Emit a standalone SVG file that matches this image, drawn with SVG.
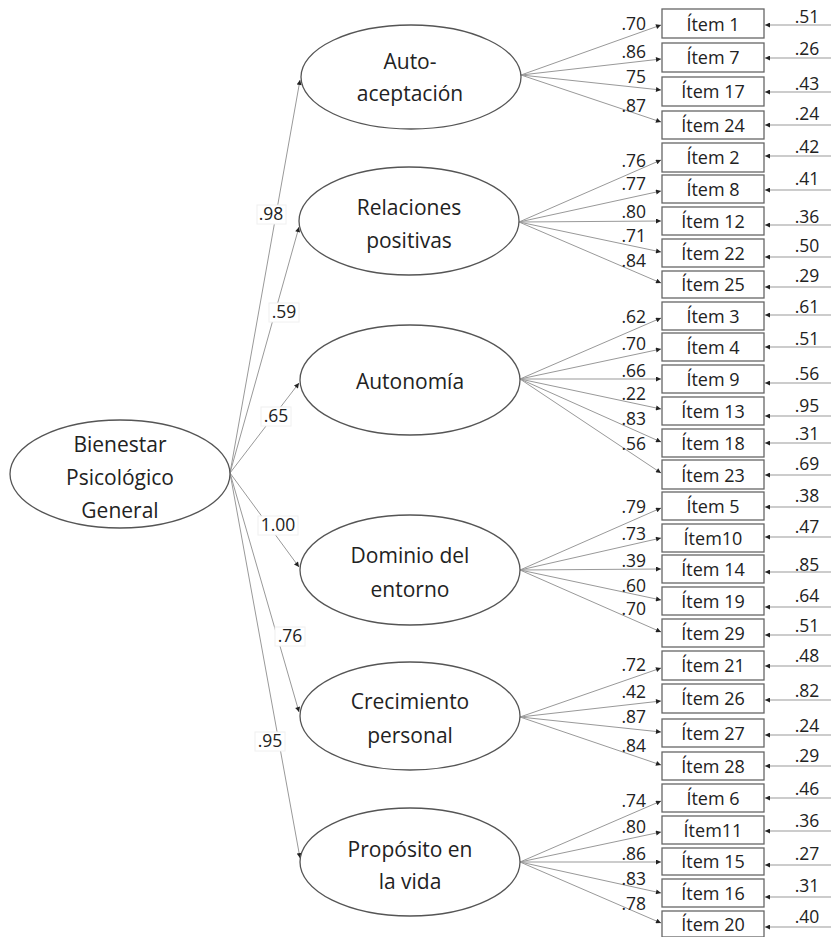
<svg xmlns="http://www.w3.org/2000/svg" width="831" height="937" viewBox="0 0 831 937">
<style>
.lat{fill:#fff;stroke:#555;stroke-width:1.3}
.box{fill:#fff;stroke:#666;stroke-width:1.3}
.lt{font-family:"Open Sans","Noto Sans",sans-serif;font-size:21px;fill:#222;text-anchor:middle}
.it{font-family:"Open Sans","Noto Sans",sans-serif;font-size:18px;fill:#222;text-anchor:middle}
.num{font-family:"Open Sans","Noto Sans",sans-serif;font-size:17.5px;fill:#222}
.ld{text-anchor:end}
.er{text-anchor:middle}
.sp{text-anchor:middle}
.c{fill:none;stroke:#999;stroke-width:1;marker-end:url(#ah)}
.bg{fill:#fff;stroke:#f0f0f0;stroke-width:1}
</style>
<defs>
<marker id="ah" viewBox="0 0 10 10" refX="10" refY="5" markerWidth="6" markerHeight="5" markerUnits="userSpaceOnUse" orient="auto"><path d="M0,0 L10,5 L0,10 z" fill="#222"/></marker>
</defs>
<rect width="831" height="937" fill="#fff"/>
<g id="connectors">
<path class="c" d="M230,473 L300,80"/>
<path class="c" d="M230,473 L299,227"/>
<path class="c" d="M230,473 L299,383"/>
<path class="c" d="M230,473 L299,567"/>
<path class="c" d="M230,473 L299,712"/>
<path class="c" d="M230,473 L300,858"/>
<path class="c" d="M521,75 L661,25"/>
<path class="c" d="M521,75 L661,59"/>
<path class="c" d="M521,75 L661,90"/>
<path class="c" d="M521,75 L661,122"/>
<path class="c" d="M519,222 L661,160"/>
<path class="c" d="M519,222 L661,191"/>
<path class="c" d="M519,222 L661,221"/>
<path class="c" d="M519,222 L661,252"/>
<path class="c" d="M519,222 L661,283"/>
<path class="c" d="M520,379 L661,318"/>
<path class="c" d="M520,379 L661,349"/>
<path class="c" d="M520,379 L661,379"/>
<path class="c" d="M520,379 L661,409"/>
<path class="c" d="M520,379 L661,442"/>
<path class="c" d="M520,379 L661,473"/>
<path class="c" d="M520,570 L661,508"/>
<path class="c" d="M520,570 L661,538"/>
<path class="c" d="M520,570 L661,569"/>
<path class="c" d="M520,570 L661,600"/>
<path class="c" d="M520,570 L661,632"/>
<path class="c" d="M520,717 L661,668"/>
<path class="c" d="M520,717 L661,701"/>
<path class="c" d="M520,717 L661,732"/>
<path class="c" d="M520,717 L661,765"/>
<path class="c" d="M520,862 L661,801"/>
<path class="c" d="M520,862 L661,832"/>
<path class="c" d="M520,862 L661,862"/>
<path class="c" d="M520,862 L661,893"/>
<path class="c" d="M520,862 L661,923"/>
<path class="c" d="M831,25 L765,25"/>
<path class="c" d="M831,58 L765,58"/>
<path class="c" d="M831,92 L765,92"/>
<path class="c" d="M831,125 L765,125"/>
<path class="c" d="M831,156 L765,156"/>
<path class="c" d="M831,190 L765,190"/>
<path class="c" d="M831,225 L765,225"/>
<path class="c" d="M831,257 L765,257"/>
<path class="c" d="M831,287 L765,287"/>
<path class="c" d="M831,315 L765,315"/>
<path class="c" d="M831,347 L765,347"/>
<path class="c" d="M831,383 L765,383"/>
<path class="c" d="M831,416 L765,416"/>
<path class="c" d="M831,443 L765,443"/>
<path class="c" d="M831,475 L765,475"/>
<path class="c" d="M831,507 L765,507"/>
<path class="c" d="M831,537 L765,537"/>
<path class="c" d="M831,572 L765,572"/>
<path class="c" d="M831,607 L765,607"/>
<path class="c" d="M831,635 L765,635"/>
<path class="c" d="M831,666 L765,666"/>
<path class="c" d="M831,700 L765,700"/>
<path class="c" d="M831,735 L765,735"/>
<path class="c" d="M831,766 L765,766"/>
<path class="c" d="M831,798 L765,798"/>
<path class="c" d="M831,831 L765,831"/>
<path class="c" d="M831,865 L765,865"/>
<path class="c" d="M831,897 L765,897"/>
<path class="c" d="M831,927 L765,927"/>
</g>
<g id="connector-labels" class="num">
<rect class="bg" x="257" y="205" width="29" height="19"/><text class="sp" x="271" y="220">.98</text>
<rect class="bg" x="269" y="303" width="30" height="19"/><text class="sp" x="284" y="318">.59</text>
<rect class="bg" x="261" y="407" width="30" height="19"/><text class="sp" x="276" y="422">.65</text>
<rect class="bg" x="258" y="516" width="40" height="19"/><text class="sp" x="278" y="531">1.00</text>
<rect class="bg" x="275" y="627" width="30" height="19"/><text class="sp" x="290" y="642">.76</text>
<rect class="bg" x="255" y="732" width="30" height="19"/><text class="sp" x="270" y="747">.95</text>
<text class="ld" x="646" y="30">.70</text>
<text class="ld" x="646" y="58">.86</text>
<text class="ld" x="646" y="83">75</text>
<text class="ld" x="646" y="112">.87</text>
<text class="ld" x="646" y="167">.76</text>
<text class="ld" x="646" y="190">.77</text>
<text class="ld" x="646" y="218">.80</text>
<text class="ld" x="646" y="242">.71</text>
<text class="ld" x="646" y="267">.84</text>
<text class="ld" x="646" y="323">.62</text>
<text class="ld" x="646" y="350">.70</text>
<text class="ld" x="646" y="377">.66</text>
<text class="ld" x="646" y="400">.22</text>
<text class="ld" x="646" y="425">.83</text>
<text class="ld" x="646" y="450">.56</text>
<text class="ld" x="646" y="513">.79</text>
<text class="ld" x="646" y="540">.73</text>
<text class="ld" x="646" y="567">.39</text>
<text class="ld" x="646" y="592">.60</text>
<text class="ld" x="646" y="615">.70</text>
<text class="ld" x="646" y="671">.72</text>
<text class="ld" x="646" y="698">.42</text>
<text class="ld" x="646" y="723">.87</text>
<text class="ld" x="646" y="752">.84</text>
<text class="ld" x="646" y="807">.74</text>
<text class="ld" x="646" y="833">.80</text>
<text class="ld" x="646" y="860">.86</text>
<text class="ld" x="646" y="885">.83</text>
<text class="ld" x="646" y="910">.78</text>
<text class="er" x="807" y="23">.51</text>
<text class="er" x="807" y="55">.26</text>
<text class="er" x="807" y="90">.43</text>
<text class="er" x="807" y="120">.24</text>
<text class="er" x="807" y="153">.42</text>
<text class="er" x="807" y="185">.41</text>
<text class="er" x="807" y="223">.36</text>
<text class="er" x="807" y="252">.50</text>
<text class="er" x="807" y="282">.29</text>
<text class="er" x="807" y="313">.61</text>
<text class="er" x="807" y="345">.51</text>
<text class="er" x="807" y="380">.56</text>
<text class="er" x="807" y="412">.95</text>
<text class="er" x="807" y="440">.31</text>
<text class="er" x="807" y="470">.69</text>
<text class="er" x="807" y="502">.38</text>
<text class="er" x="807" y="533">.47</text>
<text class="er" x="807" y="571">.85</text>
<text class="er" x="807" y="602">.64</text>
<text class="er" x="807" y="632">.51</text>
<text class="er" x="807" y="662">.48</text>
<text class="er" x="807" y="697">.82</text>
<text class="er" x="807" y="732">.24</text>
<text class="er" x="807" y="762">.29</text>
<text class="er" x="807" y="795">.46</text>
<text class="er" x="807" y="827">.36</text>
<text class="er" x="807" y="860">.27</text>
<text class="er" x="807" y="892">.31</text>
<text class="er" x="807" y="923">.40</text>
</g>
<g id="bienestar"><ellipse class="lat" cx="120" cy="474" rx="110" ry="54"/><text class="lt" x="120" y="452">Bienestar</text><text class="lt" x="120" y="485">Psicológico</text><text class="lt" x="120" y="518">General</text></g>
<g id="autoaceptacion"><ellipse class="lat" cx="411" cy="77" rx="110" ry="52"/><text class="lt" x="410" y="69">Auto-</text><text class="lt" x="410" y="101">aceptación</text></g>
<g id="relaciones"><ellipse class="lat" cx="409" cy="221" rx="110" ry="54"/><text class="lt" x="409" y="215">Relaciones</text><text class="lt" x="409" y="248">positivas</text></g>
<g id="autonomia"><ellipse class="lat" cx="410" cy="380" rx="110" ry="55"/><text class="lt" x="410" y="389">Autonomía</text></g>
<g id="dominio"><ellipse class="lat" cx="410" cy="570" rx="110" ry="55"/><text class="lt" x="410" y="563">Dominio del</text><text class="lt" x="410" y="597">entorno</text></g>
<g id="crecimiento"><ellipse class="lat" cx="410" cy="716" rx="110" ry="54"/><text class="lt" x="410" y="709">Crecimiento</text><text class="lt" x="410" y="743">personal</text></g>
<g id="proposito"><ellipse class="lat" cx="410" cy="862" rx="110" ry="54"/><text class="lt" x="410" y="857">Propósito en</text><text class="lt" x="410" y="889">la vida</text></g>
<g id="item1"><rect class="box" x="662" y="9" width="102" height="29"/><text class="it" x="713" y="31">Ítem 1</text></g>
<g id="item7"><rect class="box" x="662" y="43" width="102" height="29"/><text class="it" x="713" y="64">Ítem 7</text></g>
<g id="item17"><rect class="box" x="662" y="77" width="102" height="29"/><text class="it" x="713" y="98">Ítem 17</text></g>
<g id="item24"><rect class="box" x="662" y="111" width="102" height="28"/><text class="it" x="713" y="132">Ítem 24</text></g>
<g id="item2"><rect class="box" x="662" y="143" width="102" height="29"/><text class="it" x="713" y="164">Ítem 2</text></g>
<g id="item8"><rect class="box" x="662" y="175" width="102" height="28"/><text class="it" x="713" y="196">Ítem 8</text></g>
<g id="item12"><rect class="box" x="662" y="207" width="102" height="28"/><text class="it" x="713" y="228">Ítem 12</text></g>
<g id="item22"><rect class="box" x="662" y="239" width="102" height="28"/><text class="it" x="713" y="260">Ítem 22</text></g>
<g id="item25"><rect class="box" x="662" y="271" width="102" height="27"/><text class="it" x="713" y="291">Ítem 25</text></g>
<g id="item3"><rect class="box" x="662" y="302" width="102" height="28"/><text class="it" x="713" y="323">Ítem 3</text></g>
<g id="item4"><rect class="box" x="662" y="333" width="102" height="28"/><text class="it" x="713" y="354">Ítem 4</text></g>
<g id="item9"><rect class="box" x="662" y="365" width="102" height="28"/><text class="it" x="713" y="386">Ítem 9</text></g>
<g id="item13"><rect class="box" x="662" y="397" width="102" height="28"/><text class="it" x="713" y="418">Ítem 13</text></g>
<g id="item18"><rect class="box" x="662" y="429" width="102" height="28"/><text class="it" x="713" y="450">Ítem 18</text></g>
<g id="item23"><rect class="box" x="662" y="460" width="102" height="29"/><text class="it" x="713" y="482">Ítem 23</text></g>
<g id="item5"><rect class="box" x="662" y="492" width="102" height="28"/><text class="it" x="713" y="513">Ítem 5</text></g>
<g id="item10"><rect class="box" x="662" y="524" width="102" height="28"/><text class="it" x="713" y="545">Ítem10</text></g>
<g id="item14"><rect class="box" x="662" y="555" width="102" height="28"/><text class="it" x="713" y="576">Ítem 14</text></g>
<g id="item19"><rect class="box" x="662" y="587" width="102" height="28"/><text class="it" x="713" y="608">Ítem 19</text></g>
<g id="item29"><rect class="box" x="662" y="619" width="102" height="28"/><text class="it" x="713" y="640">Ítem 29</text></g>
<g id="item21"><rect class="box" x="662" y="651" width="102" height="29"/><text class="it" x="713" y="672">Ítem 21</text></g>
<g id="item26"><rect class="box" x="662" y="684" width="102" height="29"/><text class="it" x="713" y="705">Ítem 26</text></g>
<g id="item27"><rect class="box" x="662" y="719" width="102" height="28"/><text class="it" x="713" y="740">Ítem 27</text></g>
<g id="item28"><rect class="box" x="662" y="752" width="102" height="28"/><text class="it" x="713" y="773">Ítem 28</text></g>
<g id="item6"><rect class="box" x="662" y="784" width="102" height="28"/><text class="it" x="713" y="805">Ítem 6</text></g>
<g id="item11"><rect class="box" x="662" y="816" width="102" height="28"/><text class="it" x="713" y="837">Ítem11</text></g>
<g id="item15"><rect class="box" x="662" y="848" width="102" height="27"/><text class="it" x="713" y="868">Ítem 15</text></g>
<g id="item16"><rect class="box" x="662" y="879" width="102" height="28"/><text class="it" x="713" y="900">Ítem 16</text></g>
<g id="item20"><rect class="box" x="662" y="911" width="102" height="26"/><text class="it" x="713" y="931">Ítem 20</text></g>
</svg>
